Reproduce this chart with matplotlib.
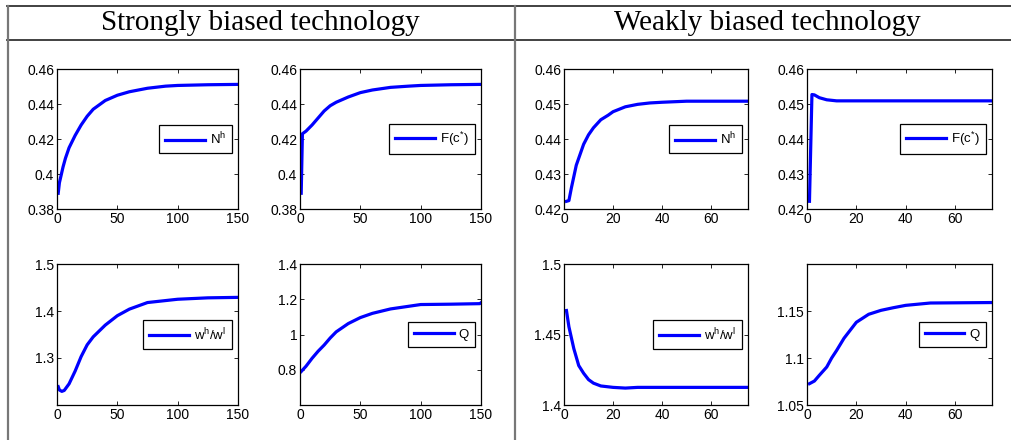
import matplotlib
matplotlib.use('Agg')
import matplotlib.pyplot as plt
from matplotlib.lines import Line2D

plt.rcParams['font.family'] = ['Liberation Sans', 'DejaVu Sans']
plt.rcParams['mathtext.default'] = 'regular'

# strongly biased technology
s_t_nh = [1, 2, 3, 5, 7, 10, 15, 20, 25, 30, 40, 50, 60, 75, 90, 100, 125, 150]
s_nh = [0.389, 0.395, 0.398, 0.404, 0.409, 0.415, 0.422, 0.428, 0.433, 0.437, 0.442, 0.445, 0.447, 0.449, 0.4502, 0.4506, 0.451, 0.4512]
s_t_fc = [1, 2, 5, 10, 15, 20, 25, 30, 40, 50, 60, 75, 90, 100, 125, 150]
s_fc = [0.389, 0.423, 0.4245, 0.428, 0.432, 0.436, 0.439, 0.441, 0.444, 0.4465, 0.448, 0.4495, 0.4502, 0.4506, 0.451, 0.4512]
s_t_w = [1, 2, 4, 6, 10, 15, 20, 25, 30, 40, 50, 60, 75, 100, 125, 150]
s_w = [1.239, 1.232, 1.229, 1.231, 1.245, 1.272, 1.303, 1.328, 1.345, 1.370, 1.390, 1.404, 1.418, 1.425, 1.428, 1.429]
s_t_q = [1, 5, 10, 15, 20, 25, 30, 40, 50, 60, 75, 100, 125, 149, 150]
s_q = [0.79, 0.82, 0.865, 0.905, 0.94, 0.98, 1.015, 1.062, 1.096, 1.12, 1.145, 1.17, 1.172, 1.175, 1.18]

# weakly biased technology
w_t_nh = [1, 2, 3, 5, 8, 10, 12, 15, 18, 20, 25, 30, 35, 40, 50, 75]
w_nh = [0.4222, 0.4224, 0.426, 0.4325, 0.4385, 0.4412, 0.4432, 0.4455, 0.4468, 0.4478, 0.4492, 0.4499, 0.4503, 0.4505, 0.4508, 0.4508]
w_t_fc = [1, 2, 3, 5, 8, 12, 75]
w_fc = [0.4222, 0.4527, 0.4526, 0.4518, 0.4512, 0.4509, 0.4509]
w_t_w = [1, 2, 4, 6, 8, 10, 12, 15, 20, 25, 30, 75]
w_w = [1.467, 1.4555, 1.44, 1.428, 1.4225, 1.418, 1.4155, 1.4135, 1.4125, 1.412, 1.4125, 1.4125]
w_t_q = [1, 3, 5, 8, 10, 12, 15, 20, 25, 30, 35, 40, 50, 75]
w_q = [1.0727, 1.0755, 1.0816, 1.0904, 1.100, 1.108, 1.121, 1.138, 1.1465, 1.1507, 1.1535, 1.156, 1.1585, 1.159]

W, H = 1011, 440
fig = plt.figure(figsize=(W / 100, H / 100), dpi=100)

def px_axes(x0, x1, y0, y1):
    return fig.add_axes([x0 / W, (H - y1) / H, (x1 - x0) / W, (y1 - y0) / H])

panels = [
    ((57, 238, 69, 209), s_t_nh, s_nh, 'N$^{h}$', (0, 150), [0, 50, 100, 150], (0.38, 0.46), [0.38, 0.40, 0.42, 0.44, 0.46], ['0.38', '0.4', '0.42', '0.44', '0.46']),
    ((300, 481, 69, 209), s_t_fc, s_fc, 'F(c$^{*}$)', (0, 150), [0, 50, 100, 150], (0.38, 0.46), [0.38, 0.40, 0.42, 0.44, 0.46], ['0.38', '0.4', '0.42', '0.44', '0.46']),
    ((57, 238, 264, 405), s_t_w, s_w, 'w$^{h}$/w$^{l}$', (0, 150), [0, 50, 100, 150], (1.2, 1.5), [1.3, 1.4, 1.5], ['1.3', '1.4', '1.5']),
    ((300, 481, 264, 405), s_t_q, s_q, 'Q', (0, 150), [0, 50, 100, 150], (0.6, 1.4), [0.8, 1.0, 1.2, 1.4], ['0.8', '1', '1.2', '1.4']),
    ((564, 748, 69, 209), w_t_nh, w_nh, 'N$^{h}$', (0, 75), [0, 20, 40, 60], (0.42, 0.46), [0.42, 0.43, 0.44, 0.45, 0.46], ['0.42', '0.43', '0.44', '0.45', '0.46']),
    ((807, 992, 69, 209), w_t_fc, w_fc, 'F(c$^{*}$)', (0, 75), [0, 20, 40, 60], (0.42, 0.46), [0.42, 0.43, 0.44, 0.45, 0.46], ['0.42', '0.43', '0.44', '0.45', '0.46']),
    ((564, 748, 264, 405), w_t_w, w_w, 'w$^{h}$/w$^{l}$', (0, 75), [0, 20, 40, 60], (1.4, 1.5), [1.4, 1.45, 1.5], ['1.4', '1.45', '1.5']),
    ((807, 992, 264, 405), w_t_q, w_q, 'Q', (0, 75), [0, 20, 40, 60], (1.05, 1.2), [1.05, 1.1, 1.15], ['1.05', '1.1', '1.15']),
]

for box, t, y, lab, xl, xt, yl, yt, ytl in panels:
    ax = px_axes(*box)
    ax.plot(t, y, color='#0000ff', lw=2.3, label=lab)
    ax.set_xlim(xl)
    ax.set_ylim(yl)
    ax.set_xticks(xt)
    ax.set_yticks(yt)
    ax.set_yticklabels(ytl)
    ax.tick_params(direction='in', length=3, width=0.6, labelsize=10, top=True, right=True, pad=2)
    for sp in ax.spines.values():
        sp.set_linewidth(0.9)
    leg = ax.legend(loc='center right', fontsize=9.5, handlelength=3.0, fancybox=False,
                    framealpha=1, edgecolor='black', borderpad=0.45, handletextpad=0.4,
                    bbox_to_anchor=(0.967, 0.5), borderaxespad=0)
    leg.get_frame().set_linewidth(0.9)

# table rules
def hline(y, x0, x1, c, lw):
    fig.add_artist(Line2D([x0 / W, x1 / W], [1 - y / H, 1 - y / H], color=c, lw=lw))

def vline(x, y0, y1, c, lw):
    fig.add_artist(Line2D([x / W, x / W], [1 - y0 / H, 1 - y1 / H], color=c, lw=lw))

hline(6.5, 7, W, '#333333', 1.3)
hline(40, 7, W, '#333333', 1.3)
vline(7.5, 6, H, '#777777', 1.6)
vline(515, 6, H, '#777777', 1.6)

fig.text(260 / W, 1 - 23 / H, 'Strongly biased technology', ha='center', va='center',
         family=['Liberation Serif', 'DejaVu Serif'], fontsize=21)
fig.text(767 / W, 1 - 23 / H, 'Weakly biased technology', ha='center', va='center',
         family=['Liberation Serif', 'DejaVu Serif'], fontsize=21)

plt.savefig('out.png', dpi=100)
